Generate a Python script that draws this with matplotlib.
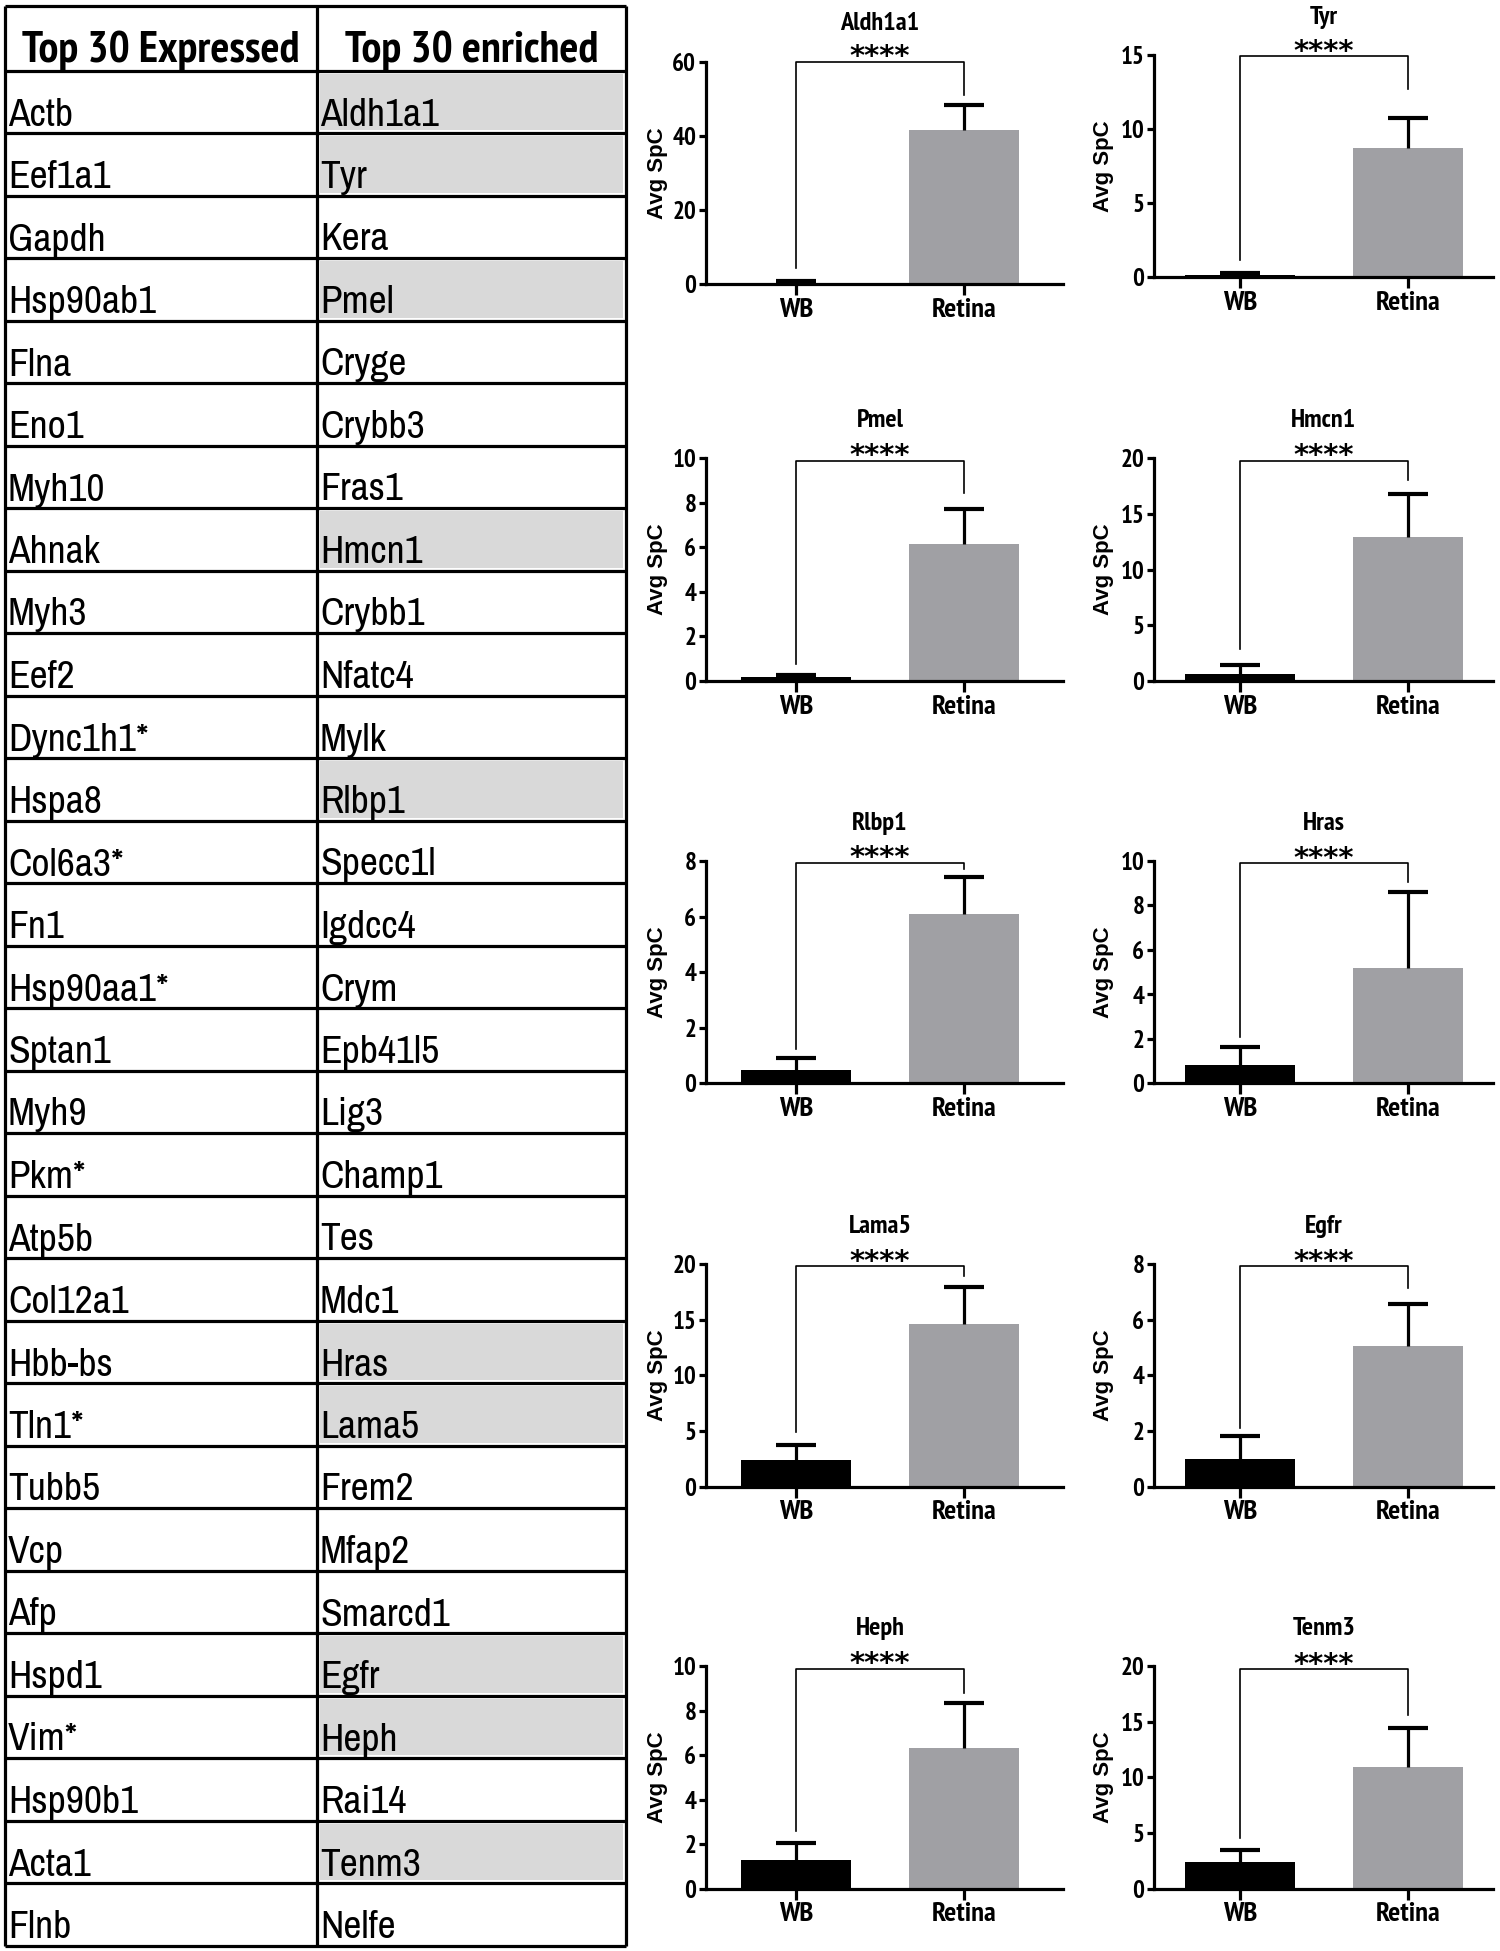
import matplotlib
matplotlib.use('Agg')
import matplotlib.pyplot as plt
from matplotlib.patches import Rectangle
import numpy as np

# ---------------- data ----------------
expressed = ['Actb', 'Eef1a1', 'Gapdh', 'Hsp90ab1', 'Flna', 'Eno1', 'Myh10', 'Ahnak',
             'Myh3', 'Eef2', 'Dync1h1*', 'Hspa8', 'Col6a3*', 'Fn1', 'Hsp90aa1*', 'Sptan1',
             'Myh9', 'Pkm*', 'Atp5b', 'Col12a1', 'Hbb-bs', 'Tln1*', 'Tubb5', 'Vcp', 'Afp',
             'Hspd1', 'Vim*', 'Hsp90b1', 'Acta1', 'Flnb']
enriched = ['Aldh1a1', 'Tyr', 'Kera', 'Pmel', 'Cryge', 'Crybb3', 'Fras1', 'Hmcn1',
            'Crybb1', 'Nfatc4', 'Mylk', 'Rlbp1', 'Specc1l', 'Igdcc4', 'Crym', 'Epb41l5',
            'Lig3', 'Champ1', 'Tes', 'Mdc1', 'Hras', 'Lama5', 'Frem2', 'Mfap2', 'Smarcd1',
            'Egfr', 'Heph', 'Rai14', 'Tenm3', 'Nelfe']
header = ['Top 30 Expressed', 'Top 30 enriched']

genes = ['Aldh1a1', 'Tyr', 'Pmel', 'Hmcn1', 'Rlbp1', 'Hras', 'Lama5', 'Egfr', 'Heph', 'Tenm3']
groups = ['WB', 'Retina']
wb_mean = [0.4, 0.15, 0.18, 0.63, 0.47, 0.81, 2.4, 0.99, 1.3, 2.36]
wb_err_top = [0.8, 0.28, 0.26, 1.41, 0.9, 1.62, 3.75, 1.82, 2.05, 3.45]
ret_mean = [41.5, 8.7, 6.14, 12.9, 6.08, 5.17, 14.6, 5.05, 6.33, 10.88]
ret_err_top = [48.2, 10.74, 7.71, 16.8, 7.44, 8.6, 17.95, 6.57, 8.35, 14.4]
y_max = [60, 15, 10, 20, 8, 10, 20, 8, 10, 20]
y_step = [20, 5, 2, 5, 2, 2, 5, 2, 2, 5]
bracket_y = [60, 14.9, 9.9, 19.8, 7.94, 9.9, 19.8, 7.92, 9.87, 19.7]
bracket_left_end = [4.5, 1.19, 0.75, 2.9, 1.23, 2.1, 4.87, 2.1, 2.6, 4.5]
bracket_right_end = [51, 12.7, 8.45, 18.05, 7.7, 9.07, 18.9, 7.13, 8.8, 15.6]
sig_label = '****'

# ---------------- fonts ----------------
NARROW = ['Archivo Narrow', 'Liberation Sans', 'DejaVu Sans']
NARROW_BOLD = ['PT Sans Narrow', 'Liberation Sans', 'DejaVu Sans']
SANS = ['Liberation Sans', 'DejaVu Sans']

W, H = 1500, 1951
fig = plt.figure(figsize=(W / 100, H / 100), dpi=100)
fig.patch.set_facecolor('white')

# ---------------- table ----------------
axt = fig.add_axes([0, 0, 1, 1])
axt.set_xlim(0, W)
axt.set_ylim(H, 0)
axt.axis('off')

TL, TD, TR = 5, 317, 626
TT, HB, BB = 6, 71, 1946
nrows = len(expressed)
rh = (BB - HB) / nrows

for i, g in enumerate(enriched):
    if g in genes:
        y0 = HB + i * rh
        axt.add_patch(Rectangle((TD + 3, y0 + 3), TR - TD - 6, rh - 6,
                                facecolor='#d9d9d9', edgecolor='none', zorder=1))

lw_t = 2.3
axt.hlines([TT, HB] + [HB + (i + 1) * rh for i in range(nrows)], TL, TR,
           color='black', lw=lw_t, zorder=3)
axt.vlines([TL, TD, TR], TT, BB, color='black', lw=lw_t, zorder=3)

axt.text((TL + TD) / 2, HB - 9, header[0], ha='center', va='baseline',
         fontsize=32, fontweight='bold', family=NARROW_BOLD, zorder=4)
axt.text((TD + TR) / 2, HB - 9, header[1], ha='center', va='baseline',
         fontsize=32, fontweight='bold', family=NARROW_BOLD, zorder=4)
for i in range(nrows):
    yb = HB + (i + 1) * rh - 8
    axt.text(TL + 3, yb, expressed[i], ha='left', va='baseline', fontsize=28.5,
             family=NARROW, zorder=4)
    axt.text(TD + 3, yb, enriched[i], ha='left', va='baseline', fontsize=28.5,
             family=NARROW, zorder=4)

# ---------------- bar charts ----------------
col_x = [(706, 1063, 796, 964), (1154, 1493, 1240, 1408)]  # axis left, right, x0, x1 px
row_top = [(61.7, 55.0), (458.3, 458.3), (861.0, 861.0), (1264.0, 1264.0), (1666.0, 1666.0)]
ax_h = 222.5
ylabel_px = [668, 1114]

for k, g in enumerate(genes):
    r, c = divmod(k, 2)
    xl, xr, p0, p1 = col_x[c]
    top = row_top[r][c]
    ax = fig.add_axes([xl / W, 1 - (top + ax_h) / H, (xr - xl) / W, ax_h / H])
    unit = p1 - p0
    ax.set_xlim((xl - p0) / unit, (xr - p0) / unit)
    ax.set_ylim(0, y_max[k])

    means = [wb_mean[k], ret_mean[k]]
    tops = [wb_err_top[k], ret_err_top[k]]
    xs = np.arange(len(groups))
    ax.bar(xs, means, width=0.66, color=['black', '#a0a0a4'], zorder=2)
    ax.vlines(xs, means, tops, color='black', lw=2.3, zorder=3)
    cap = 0.12
    ax.hlines(tops, xs - cap, xs + cap, color='black', lw=3.0, zorder=3)

    by = bracket_y[k]
    ax.plot([0, 0, 1, 1], [bracket_left_end[k], by, by, bracket_right_end[k]],
            color='black', lw=1.2, clip_on=False, zorder=4)

    ax.annotate(sig_label, xy=(0.5, by), xycoords='data', xytext=(0, -2.5),
                textcoords='offset points', ha='center', va='baseline',
                fontsize=21, fontweight='bold', family='DejaVu Sans',
                annotation_clip=False)
    ax.annotate(g, xy=(0.5, 1.0), xycoords=('data', 'axes fraction'),
                xytext=(0, 22.5), textcoords='offset points', ha='center',
                va='baseline', fontsize=19, fontweight='bold', family=NARROW_BOLD,
                annotation_clip=False)

    for s in ['top', 'right']:
        ax.spines[s].set_visible(False)
    for s in ['left', 'bottom']:
        ax.spines[s].set_linewidth(2.3)
    ticks = np.arange(0, y_max[k] + y_step[k] / 2, y_step[k])
    ax.set_xticks(xs)
    ax.set_xticklabels(groups)
    ax.set_yticks(ticks)
    ax.set_yticklabels([f'{v:g}' for v in ticks])
    ax.tick_params(axis='y', length=5, width=2.3, direction='out', pad=2, labelsize=18)
    ax.tick_params(axis='x', length=8, width=2.3, direction='out', pad=2, labelsize=20.5)
    for lab in ax.get_xticklabels() + ax.get_yticklabels():
        lab.set_fontfamily(NARROW_BOLD)
        lab.set_fontweight('bold')
    ax.set_ylabel('Avg SpC', fontsize=16, fontweight='bold', family=SANS)
    ax.yaxis.set_label_coords((ylabel_px[c] - xl) / (xr - xl), 0.5)
    ax.set_facecolor('none')

fig.savefig('out.png', dpi=100, facecolor='white')
